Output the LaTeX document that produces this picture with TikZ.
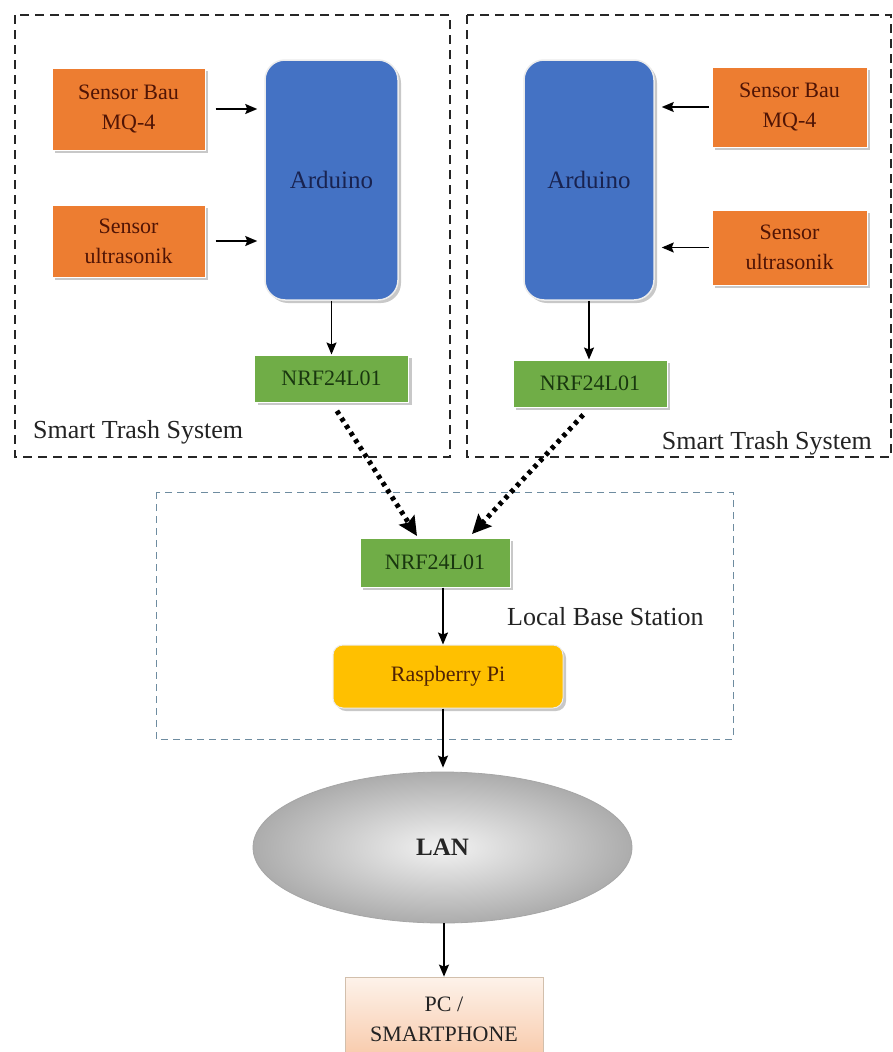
\documentclass[tikz,border=0pt]{standalone}
\usepackage{fontspec}
\setmainfont{Liberation Serif}
\newfontfamily\diagserif{Liberation Serif}
\usetikzlibrary{arrows.meta,shadows,shapes.geometric,calc}
\definecolor{orangefill}{RGB}{237,125,49}
\definecolor{bluefill}{RGB}{68,114,196}
\definecolor{greenfill}{RGB}{112,173,71}
\definecolor{yellowfill}{RGB}{255,192,0}
\definecolor{sensortext}{RGB}{80,20,5}
\definecolor{ardtext}{RGB}{25,35,80}
\definecolor{nrftext}{RGB}{25,55,15}
\definecolor{rpitext}{RGB}{80,35,5}
\definecolor{midbox}{RGB}{110,140,160}
\definecolor{pctop}{RGB}{253,242,234}
\definecolor{pcbot}{RGB}{248,200,168}
\definecolor{labeltext}{RGB}{35,35,35}
\tikzset{
  shd/.style={drop shadow={shadow xshift=3pt,shadow yshift=-3pt,fill=black!30,opacity=0.7}},
  sensorbox/.style={shd,rectangle,draw=white,line width=1pt,fill=orangefill,text=sensortext,
    minimum width=153pt,align=center,inner sep=0pt,font=\diagserif\fontsize{22}{30}\selectfont},
  ardbox/.style={shd,rectangle,rounded corners=20pt,draw=white!85!gray,line width=1.5pt,fill=bluefill,
    text=ardtext,minimum width=133pt,minimum height=240pt,inner sep=0pt,font=\diagserif\fontsize{25}{28}\selectfont},
  nrfbox/.style={shd,rectangle,draw=white,line width=1pt,fill=greenfill,text=nrftext,
    minimum width=154pt,minimum height=47pt,inner sep=0pt,font=\diagserif\fontsize{22}{26}\selectfont},
  rpibox/.style={shd,rectangle,rounded corners=10pt,draw=white!85!gray,line width=1pt,fill=yellowfill,
    text=rpitext,minimum width=230pt,minimum height=63pt,inner sep=0pt,font=\diagserif\fontsize{22}{26}\selectfont},
  lanshape/.style={ellipse,draw=gray!70,line width=0.8pt,inner color=gray!10,outer color=gray!65,
    minimum width=379pt,minimum height=151pt,inner sep=0pt,font=\diagserif\bfseries\fontsize{25}{28}\selectfont,text=black!85},
  pcbox/.style={rectangle,draw=orange!30!gray!50,line width=0.8pt,top color=pctop,bottom color=pcbot,
    minimum width=198pt,minimum height=84pt,inner sep=0pt,align=center,text=labeltext,
    font=\diagserif\fontsize{22}{30}\selectfont},
  outerbox/.style={draw=black!85,line width=1.5pt,dash pattern=on 9pt off 6pt},
  basebox/.style={draw=midbox,line width=1pt,dash pattern=on 7pt off 5pt},
  grouplabel/.style={text=labeltext,font=\diagserif\fontsize{26}{30}\selectfont,inner sep=0pt},
  arr/.style={draw=black,line width=1.4pt,-{Stealth[length=12pt,width=10pt,inset=2pt]}},
  dotarr/.style={draw=black,line width=5pt,dash pattern=on 4pt off 4.5pt,
    -{Stealth[length=19pt,width=18pt,inset=3pt]}}
}
\begin{document}
\begin{tikzpicture}[x=1pt,y=-1pt]
\useasboundingbox[fill=white] (0,0) rectangle (893,1052);
% group frames
\draw[outerbox] (15,15) rectangle (450,457);
\draw[outerbox] (467,15) rectangle (891,457);
\draw[basebox] (156,492) rectangle (733,739);
% left system
\node[sensorbox,minimum height=82pt] (sbL) at (128.5,109) {Sensor Bau\\MQ-4};
\node[sensorbox,minimum height=72pt] (suL) at (128.5,241) {Sensor\\ultrasonik};
\node[ardbox] (arL) at (331.5,180) {Arduino};
\node[nrfbox] (nrfL) at (331.5,378.5) {NRF24L01};
\node[grouplabel,anchor=west] (lblL) at (33,432) {Smart Trash System};
% right system
\node[ardbox,minimum width=130pt] (arR) at (589,180) {Arduino};
\node[sensorbox,minimum width=155pt,minimum height=80pt] (sbR) at (789.5,107) {Sensor Bau\\MQ-4};
\node[sensorbox,minimum width=155pt,minimum height=75pt] (suR) at (789.5,247.5) {Sensor\\ultrasonik};
\node[nrfbox] (nrfR) at (590,383.5) {NRF24L01};
\node[grouplabel,anchor=east] (lblR) at (872,443) {Smart Trash System};
% base station
\node[nrfbox,minimum width=150pt,minimum height=49pt] (nrfM) at (435,562.5) {NRF24L01};
\node[rpibox] (rpi) at (448,676.5) {Raspberry Pi};
\node[grouplabel,anchor=west] (lblM) at (507,617) {Local Base Station};
\coordinate (axis) at (443,0);
% network
\node[lanshape] (lan) at (442.5,847.5) {LAN};
\node[pcbox] (pc) at (444,1019) {\raisebox{6pt}{\parbox{198pt}{\centering PC /\\SMARTPHONE}}};
% arrows
\draw[arr,shorten <=10pt,shorten >=7pt] (sbL.east) -- (sbL.east -| arL.west);
\draw[arr,shorten <=10pt,shorten >=7pt] (suL.east) -- (suL.east -| arL.west);
\draw[arr] (arL.south) -- (nrfL.north);
\draw[arr,shorten <=3pt,shorten >=7pt] (sbR.west) -- (sbR.west -| arR.east);
\draw[arr,shorten <=3pt,shorten >=7pt] (suR.west) -- (suR.west -| arR.east);
\draw[arr] (arR.south) -- (arR.south |- nrfR.north);
\coordinate (tipL) at (417,536);
\coordinate (tipR) at (472,534);
\draw[dotarr,shorten <=10pt] (nrfL.south) -- (tipL);
\draw[dotarr,shorten <=10pt] (nrfR.south) -- (tipR);
\draw[arr] (nrfM.south -| axis) -- (rpi.north -| axis);
\draw[arr,shorten >=4pt] (rpi.south -| axis) -- (lan.north -| axis);
\draw[arr] (lan.south -| pc.north) -- (pc.north);
\end{tikzpicture}
\end{document}
